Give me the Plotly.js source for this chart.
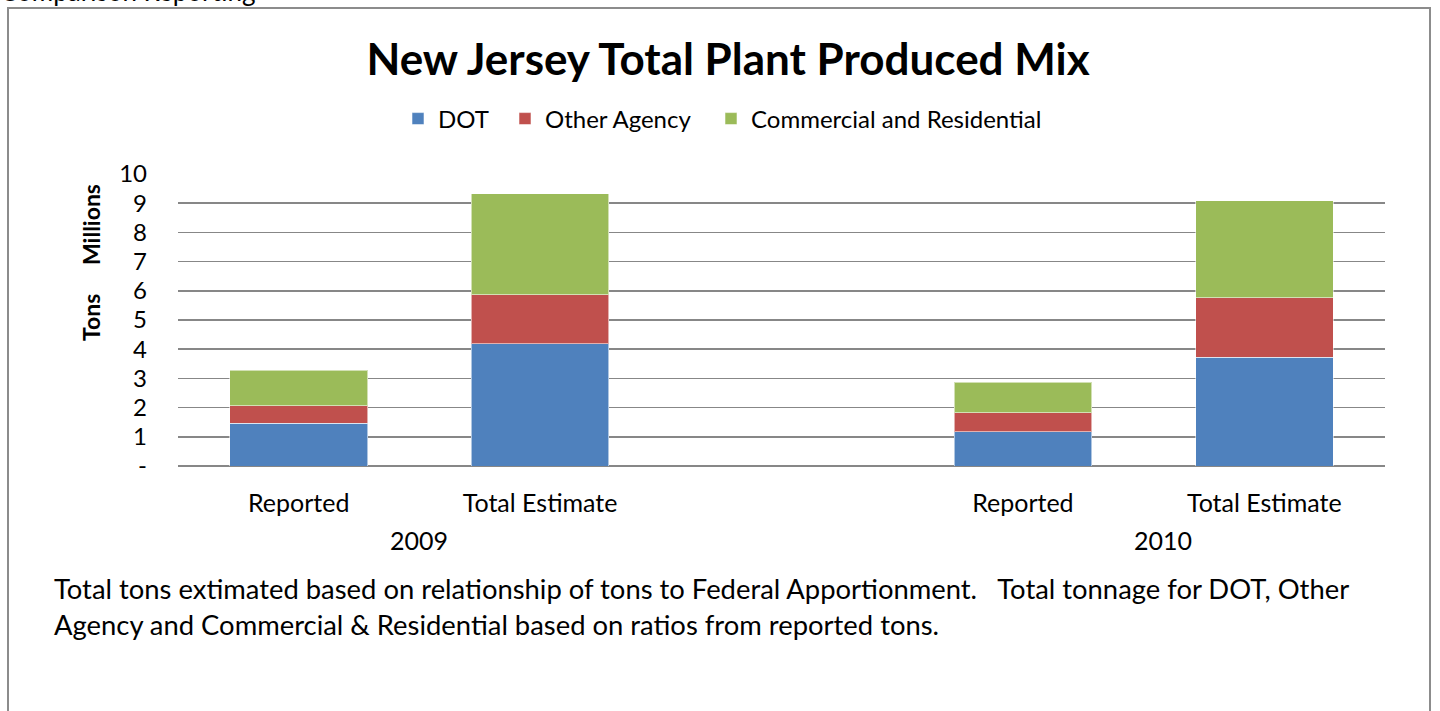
<!DOCTYPE html>
<html>
<head>
<meta charset="utf-8">
<script src="https://cdn.plot.ly/plotly-3.0.1.min.js"></script>
<style>
  html, body { margin: 0; padding: 0; background: #fff; width: 1440px; height: 711px; overflow: hidden; }
  #frame { position: absolute; left: 7px; top: 7px; width: 1424px; height: 740px; border: 2px solid #8c8c8c; box-sizing: border-box; }
  #chart { position: absolute; left: 0; top: 0; width: 1440px; height: 711px; }
</style>
</head>
<body>
<div id="frame"></div>
<div id="chart"></div>
<script>
// ---- data (millions of tons) ----
const years = ["2009", "2009", "2010", "2010"];
const categories = ["Reported", "Total Estimate", "Reported", "Total Estimate"];
const dot = [1.47, 4.18, 1.17, 3.73];
const otherAgency = [0.60, 1.68, 0.65, 2.04];
const commercialResidential = [1.21, 3.47, 1.05, 3.32];
const seriesNames = ["DOT", "Other Agency", "Commercial and Residential"];
const yTickVals = [0, 1, 2, 3, 4, 5, 6, 7, 8, 9, 10];
const yTickText = ["-", "1", "2", "3", "4", "5", "6", "7", "8", "9", "10"];
const yearLabels = ["2009", "2010"];
const footnote = "Total tons extimated based on relationship of tons to Federal Apportionment.\u00a0\u00a0\u00a0Total tonnage for DOT, Other<br>Agency and Commercial &amp; Residential based on ratios from reported tons.";

const keys = categories.map((c, i) => years[i] + " " + c);
const spacer = "\u200b";
const categoryOrder = [keys[0], keys[1], spacer, keys[2], keys[3]];

const FONT = "Lato, 'Open Sans', sans-serif";
const colors = ["#4F81BD", "#C0504D", "#9BBB59"];
const values = [dot, otherAgency, commercialResidential];
const legendIds = ["legend", "legend2", "legend3"];
const legendTextX = [438, 545, 751];   // pixel x where each legend label starts

const PL = 178, PW = 1207, PB = 466, PH = 292;
const px2x = p => (p - PL) / PW;
const px2y = p => (PB - p) / PH;

const traces = values.map((v, s) => ({
  type: "bar",
  name: seriesNames[s],
  legend: legendIds[s],
  x: keys,
  y: v,
  width: 0.57,
  marker: { color: colors[s], line: { color: "rgba(255,255,255,0.55)", width: 1 } },
  hoverinfo: "skip"
}));

const legendBase = {
  orientation: "h",
  xref: "paper", xanchor: "left",
  yref: "paper", y: px2y(119), yanchor: "middle",
  font: { family: FONT, size: 24, color: "#000" },
  bgcolor: "rgba(0,0,0,0)",
  itemclick: false
};

const layout = {
  width: 1440,
  height: 711,
  paper_bgcolor: "rgba(0,0,0,0)",
  plot_bgcolor: "rgba(0,0,0,0)",
  barmode: "stack",
  margin: { l: PL, r: 1440 - PL - PW, t: PB - PH, b: 711 - PB },
  font: { family: FONT, color: "#000", size: 24 },
  title: {
    text: "<b>New Jersey Total Plant Produced Mix</b>",
    font: { family: FONT, size: 44, color: "#000" },
    xref: "container", x: 0.5056, xanchor: "center",
    yref: "container", y: 1 - 60 / 711, yanchor: "middle"
  },
  showlegend: true,
  legend: Object.assign({}, legendBase, { x: px2x(legendTextX[0] - 40) }),
  legend2: Object.assign({}, legendBase, { x: px2x(legendTextX[1] - 40) }),
  legend3: Object.assign({}, legendBase, { x: px2x(legendTextX[2] - 40) }),
  xaxis: {
    type: "category",
    categoryorder: "array",
    categoryarray: categoryOrder,
    range: [-0.5, 4.5],
    tickmode: "array",
    tickvals: keys,
    ticktext: categories,
    ticks: "",
    showgrid: false,
    showline: false,
    zeroline: false,
    ticklabelstandoff: 20,
    tickfont: { family: FONT, size: 25, color: "#000" },
    fixedrange: true
  },
  yaxis: {
    range: [0, 10],
    tickmode: "array",
    tickvals: yTickVals,
    ticktext: yTickText,
    showgrid: true,
    gridcolor: "#878787",
    gridwidth: 1.6,
    zeroline: true,
    zerolinecolor: "#878787",
    zerolinewidth: 1.6,
    showline: false,
    ticks: "",
    ticklabelstandoff: 30,
    tickfont: { family: FONT, size: 24, color: "#000" },
    fixedrange: true
  },
  annotations: [
    { text: "Comparison Reporting", xref: "paper", yref: "paper", x: px2x(-2), y: px2y(9),
      xanchor: "left", yanchor: "bottom", showarrow: false,
      font: { family: FONT, size: 26, color: "#000" } },
    { text: "<b>Millions</b>", xref: "paper", yref: "paper", x: px2x(91), y: px2y(225),
      textangle: -90, showarrow: false, xanchor: "center", yanchor: "middle",
      font: { family: FONT, size: 23, color: "#000" } },
    { text: "<b>Tons</b>", xref: "paper", yref: "paper", x: px2x(91), y: px2y(318),
      textangle: -90, showarrow: false, xanchor: "center", yanchor: "middle",
      font: { family: FONT, size: 23, color: "#000" } },
    { text: yearLabels[0], xref: "x", yref: "paper", x: 0.5, y: px2y(540),
      showarrow: false, xanchor: "center", yanchor: "middle",
      font: { family: FONT, size: 25, color: "#000" } },
    { text: yearLabels[1], xref: "x", yref: "paper", x: 3.58, y: px2y(540),
      showarrow: false, xanchor: "center", yanchor: "middle",
      font: { family: FONT, size: 25, color: "#000" } },
    { text: footnote, xref: "paper", yref: "paper", x: px2x(52), y: px2y(606),
      showarrow: false, xanchor: "left", yanchor: "middle", align: "left",
      font: { family: FONT, size: 27.4, color: "#000" } }
  ]
};

Plotly.newPlot("chart", traces, layout, { displayModeBar: false, staticPlot: true });
</script>
</body>
</html>
